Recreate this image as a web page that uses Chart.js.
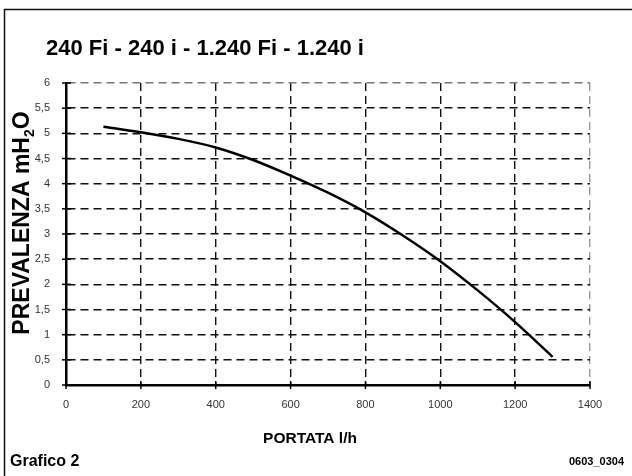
<!DOCTYPE html>
<html>
<head>
<meta charset="utf-8">
<script src="https://cdn.jsdelivr.net/npm/chart.js@4/dist/chart.umd.min.js"></script>
<style>
  html, body { margin: 0; padding: 0; background: #fff; }
  #wrap { width: 632px; height: 476px; position: relative; }
</style>
</head>
<body>
<div id="wrap"><canvas id="c" width="632" height="476"></canvas></div>
<script>
// Pump curve: flow rate (l/h) vs available head (m H2O)
const portata = [100, 200, 300, 400, 500, 600, 700, 800, 900, 1000, 1100, 1200, 1300];
const prevalenza = [5.13, 5.02, 4.89, 4.72, 4.47, 4.16, 3.82, 3.43, 2.97, 2.46, 1.88, 1.25, 0.56];

const titolo = '240 Fi - 240 i - 1.240 Fi - 1.240 i';
const titoloX = 'PORTATA l/h';
const titoloY = ['PREVALENZA mH', '2', 'O'];
const nota = 'Grafico 2';
const codice = '0603_0304';

const FONT = '"Liberation Sans", Arial, Helvetica, sans-serif';

// Frame, headings and crossing tick marks
const decor = {
  id: 'decor',
  beforeDraw(chart) {
    const ctx = chart.ctx;
    ctx.save();
    ctx.fillStyle = '#fff';
    ctx.fillRect(0, 0, chart.width, chart.height);
    ctx.strokeStyle = '#111';
    ctx.lineWidth = 1.5;
    ctx.beginPath();
    ctx.moveTo(4.5, chart.height);
    ctx.lineTo(4.5, 9.5);
    ctx.lineTo(chart.width, 9.5);
    ctx.stroke();
    ctx.restore();
  },
  afterDraw(chart) {
    const ctx = chart.ctx;
    const area = chart.chartArea;
    const xs = chart.scales.x, ys = chart.scales.y;
    ctx.save();
    // small crossing ticks on the axes
    ctx.strokeStyle = '#000';
    ctx.lineWidth = 1.5;
    ys.ticks.forEach(t => {
      const py = ys.getPixelForValue(t.value);
      ctx.beginPath();
      ctx.moveTo(area.left - 4, py);
      ctx.lineTo(area.left + 5, py);
      ctx.stroke();
    });
    xs.ticks.forEach(t => {
      const px = xs.getPixelForValue(t.value);
      ctx.beginPath();
      ctx.moveTo(px, area.bottom - 4);
      ctx.lineTo(px, area.bottom + 4);
      ctx.stroke();
    });

    ctx.fillStyle = '#000';
    ctx.textBaseline = 'alphabetic';
    // main heading
    ctx.font = 'bold 22px ' + FONT;
    ctx.textAlign = 'left';
    ctx.fillText(titolo, 46, 55);
    // x title
    ctx.font = 'bold 15.5px ' + FONT;
    ctx.textAlign = 'center';
    ctx.fillText(titoloX, 310, 443);
    // footer
    ctx.textAlign = 'left';
    ctx.font = 'bold 16px ' + FONT;
    ctx.fillText(nota, 10, 466);
    ctx.textAlign = 'right';
    ctx.font = 'bold 11px ' + FONT;
    ctx.fillText(codice, 624, 465);

    // rotated y title with subscript
    ctx.translate(29, 223);
    ctx.rotate(-Math.PI / 2);
    const fBig = 'bold 23px ' + FONT, fSmall = 'bold 14px ' + FONT;
    ctx.font = fBig;
    const w1 = ctx.measureText(titoloY[0]).width;
    const w3 = ctx.measureText(titoloY[2]).width;
    ctx.font = fSmall;
    const w2 = ctx.measureText(titoloY[1]).width;
    let x = -(w1 + w2 + w3) / 2;
    ctx.textAlign = 'left';
    ctx.font = fBig;
    ctx.fillText(titoloY[0], x, 0);
    x += w1;
    ctx.font = fSmall;
    ctx.fillText(titoloY[1], x, 5);
    x += w2;
    ctx.font = fBig;
    ctx.fillText(titoloY[2], x, 0);
    ctx.restore();
  }
};

new Chart(document.getElementById('c'), {
  type: 'line',
  data: {
    datasets: [{
      data: portata.map((p, i) => ({ x: p, y: prevalenza[i] })),
      borderColor: '#000',
      borderWidth: 2.5,
      pointRadius: 0,
      fill: false,
      cubicInterpolationMode: 'monotone'
    }]
  },
  options: {
    responsive: false,
    animation: false,
    events: [],
    layout: { padding: { left: 0, top: 83, right: 42, bottom: 0 } },
    plugins: { legend: { display: false }, tooltip: { enabled: false }, title: { display: false } },
    scales: {
      x: {
        type: 'linear',
        min: 0, max: 1400,
        afterFit(s) { s.height = 91; },
        ticks: {
          stepSize: 200,
          padding: 9,
          color: '#333',
          font: { family: FONT, size: 11 },
          maxRotation: 0,
          callback: v => String(v)
        },
        grid: {
          drawTicks: true,
          tickLength: 4,
          tickColor: 'rgba(0,0,0,0)',
          lineWidth: 1.4,
          color: ctx => {
            const v = ctx.tick && ctx.tick.value;
            if (v === 0) return 'rgba(0,0,0,0)';
            if (v === 1400) return '#999';
            return '#111';
          }
        },
        border: { display: true, color: '#000', width: 2.5, dash: [8, 5] }
      },
      y: {
        min: 0, max: 6,
        afterFit(s) { s.width = 66; },
        ticks: {
          stepSize: 0.5,
          padding: 12,
          color: '#333',
          font: { family: FONT, size: 11 },
          callback: v => String(v).replace('.', ',')
        },
        grid: {
          drawTicks: true,
          tickLength: 4,
          tickColor: 'rgba(0,0,0,0)',
          lineWidth: 1.4,
          color: ctx => {
            const v = ctx.tick && ctx.tick.value;
            if (v === 0) return 'rgba(0,0,0,0)';
            if (v === 6) return '#777';
            return '#111';
          }
        },
        border: { display: true, color: '#000', width: 2.5, dash: [8, 5] }
      }
    }
  },
  plugins: [decor]
});
</script>
</body>
</html>
